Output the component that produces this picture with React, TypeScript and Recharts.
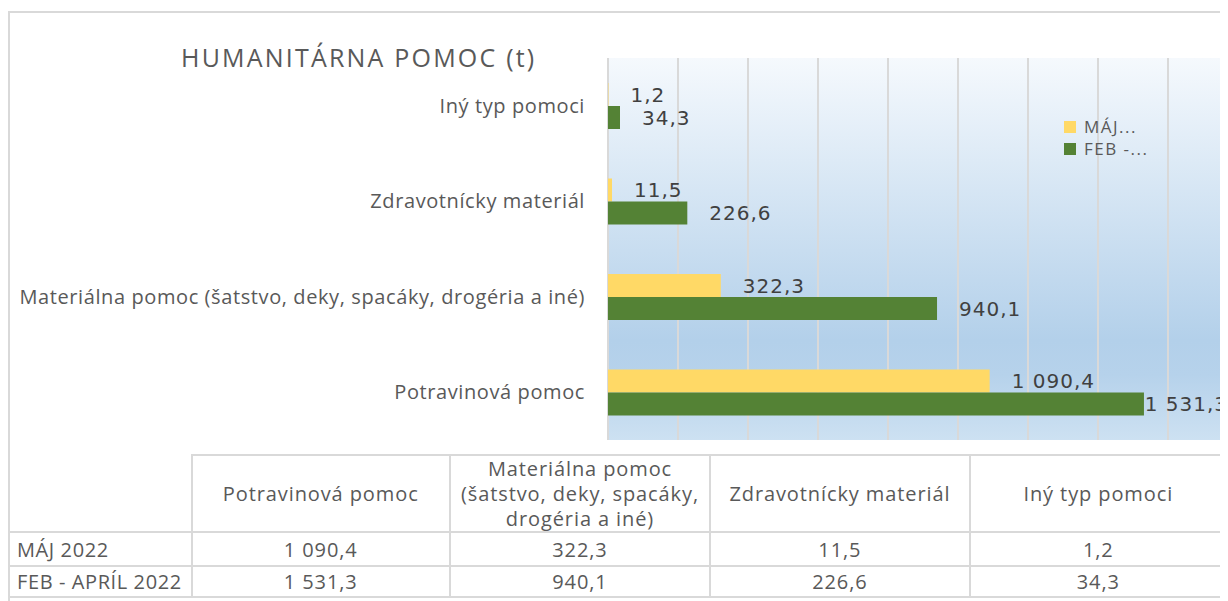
import React from "react";
import { BarChart, Bar, XAxis, YAxis, CartesianGrid, Legend, LabelList } from "recharts";

const categories = [
  "Iný typ pomoci",
  "Zdravotnícky materiál",
  "Materiálna pomoc (šatstvo, deky, spacáky, drogéria a iné)",
  "Potravinová pomoc",
];
const seriesNames = ["MÁJ 2022", "FEB - APRÍL 2022"];
const legendLabels = ["MÁJ...", "FEB -..."];
const majValues = [1.2, 11.5, 322.3, 1090.4];
const febValues = [34.3, 226.6, 940.1, 1531.3];
const xTicks = [0, 200, 400, 600, 800, 1000, 1200, 1400, 1600, 1800];
// table headers run in the opposite order of the chart categories
const tableHeaders = [
  "Potravinová pomoc",
  "Materiálna pomoc\n(šatstvo, deky, spacáky,\ndrogéria a iné)",
  "Zdravotnícky materiál",
  "Iný typ pomoci",
];
const colWidths = [183, 263, 266, 264, 264];

const colors = ["#FFD966", "#548235"];
const textColor = "#595959";
const gridColor = "#d9d9d9";
const font = "'Open Sans', Lato, sans-serif";
const numFont = "'DejaVu Sans', 'Open Sans', sans-serif";

const data = categories.map((name, i) => ({
  name,
  maj: majValues[i],
  feb: febValues[i],
}));

function fmt(v: number) {
  const [int, dec] = v.toFixed(1).split(".");
  return int.replace(/\B(?=(\d{3})+(?!\d))/g, " ") + "," + dec;
}

const VIEW_RIGHT = 1220;

const renderValueLabel = (props: any) => {
  const { x, y, width, height, value } = props;
  const end = Number(x) + Number(width);
  let tx = end + 22;
  let anchor: "start" | "end" = "start";
  // keep the label inside the visible area, like Excel does
  if (tx + 80 > VIEW_RIGHT) {
    tx = VIEW_RIGHT;
    anchor = "end";
  }
  return (
    <text
      x={tx}
      y={Number(y) + Number(height) / 2}
      dominantBaseline="central"
      textAnchor={anchor}
      fill="#404040"
      fontSize={20}
      fontFamily={numFont}
      style={{ letterSpacing: 1 }}
    >
      {fmt(Number(value))}
    </text>
  );
};

const LegendBox = () => (
  <div
    style={{
      fontSize: 17,
      color: textColor,
      lineHeight: "22px",
      fontFamily: font,
      letterSpacing: 1.5,
    }}
  >
    {legendLabels.map((l, i) => (
      <div key={l} style={{ display: "flex", alignItems: "center" }}>
        <span
          style={{
            display: "inline-block",
            width: 12,
            height: 12,
            background: colors[i],
            marginRight: 8,
          }}
        />
        {l}
      </div>
    ))}
  </div>
);

const cellBorder = `2px solid ${gridColor}`;

export default function App() {
  return (
    <div
      style={{
        position: "relative",
        width: 1220,
        height: 593,
        overflow: "hidden",
        fontFamily: font,
        color: textColor,
      }}
    >
      <div
        style={{
          position: "absolute",
          left: 0,
          top: 3,
          width: 1300,
          height: 700,
          border: cellBorder,
          boxSizing: "border-box",
        }}
      />
      <div
        style={{
          position: "absolute",
          left: 173,
          top: 34,
          fontSize: 25,
          lineHeight: "30px",
          letterSpacing: 2.2,
          whiteSpace: "nowrap",
        }}
      >
        HUMANITÁRNA POMOC (t)
      </div>
      <div style={{ position: "absolute", left: 0, top: 0 }}>
        <BarChart
          width={1240}
          height={445}
          data={data}
          layout="vertical"
          margin={{ top: 50, right: 10, bottom: 13, left: 0 }}
          barSize={23}
          barGap={0}
        >
          <defs>
            <linearGradient id="plotBg" x1="0" y1="0" x2="0" y2="1">
              <stop offset="0%" stopColor="#f5f9fd" />
              <stop offset="74%" stopColor="#b3d0ea" />
              <stop offset="83%" stopColor="#b6d2eb" />
              <stop offset="100%" stopColor="#cde1f2" />
            </linearGradient>
          </defs>
          <CartesianGrid
            horizontal={false}
            vertical
            stroke={gridColor}
            strokeWidth={2}
            fill="url(#plotBg)"
            fillOpacity={1}
          />
          <XAxis type="number" domain={[0, 1800]} ticks={xTicks} hide />
          <YAxis
            type="category"
            dataKey="name"
            width={600}
            interval={0}
            tickLine={false}
            axisLine={false}
            tickSize={0}
            tickMargin={23}
            tick={{ fontSize: 20, fill: textColor, fontFamily: font, style: { letterSpacing: 0.6 } }}
          />
          <Legend
            layout="vertical"
            align="center"
            verticalAlign="middle"
            wrapperStyle={{ top: 108, left: 1056, width: "auto" }}
            content={<LegendBox />}
          />
          <Bar dataKey="maj" name={seriesNames[0]} fill={colors[0]} isAnimationActive={false}>
            <LabelList dataKey="maj" content={renderValueLabel} />
          </Bar>
          <Bar dataKey="feb" name={seriesNames[1]} fill={colors[1]} isAnimationActive={false}>
            <LabelList dataKey="feb" content={renderValueLabel} />
          </Bar>
        </BarChart>
      </div>
      <table
        style={{
          position: "absolute",
          left: 0,
          top: 446,
          borderCollapse: "collapse",
          tableLayout: "fixed",
          fontSize: 20,
          letterSpacing: 0.9,
          color: textColor,
        }}
      >
        <colgroup>
          {colWidths.map((w, i) => (
            <col key={i} style={{ width: w }} />
          ))}
        </colgroup>
        <tbody>
          <tr style={{ height: 73 }}>
            <td style={{ borderBottom: cellBorder }} />
            {tableHeaders.map((h) => (
              <td
                key={h}
                style={{
                  border: cellBorder,
                  textAlign: "center",
                  whiteSpace: "pre-line",
                  lineHeight: "25px",
                  padding: 0,
                }}
              >
                {h}
              </td>
            ))}
          </tr>
          {[majValues, febValues].map((vals, r) => (
            <tr key={seriesNames[r]} style={{ height: r === 0 ? 34 : 31 }}>
              <td style={{ border: cellBorder, paddingLeft: 7, whiteSpace: "nowrap", letterSpacing: 0.6 }}>
                {seriesNames[r]}
              </td>
              {[...vals].reverse().map((v, i) => (
                <td key={i} style={{ border: cellBorder, textAlign: "center", padding: 0 }}>
                  {fmt(v)}
                </td>
              ))}
            </tr>
          ))}
        </tbody>
      </table>
    </div>
  );
}
